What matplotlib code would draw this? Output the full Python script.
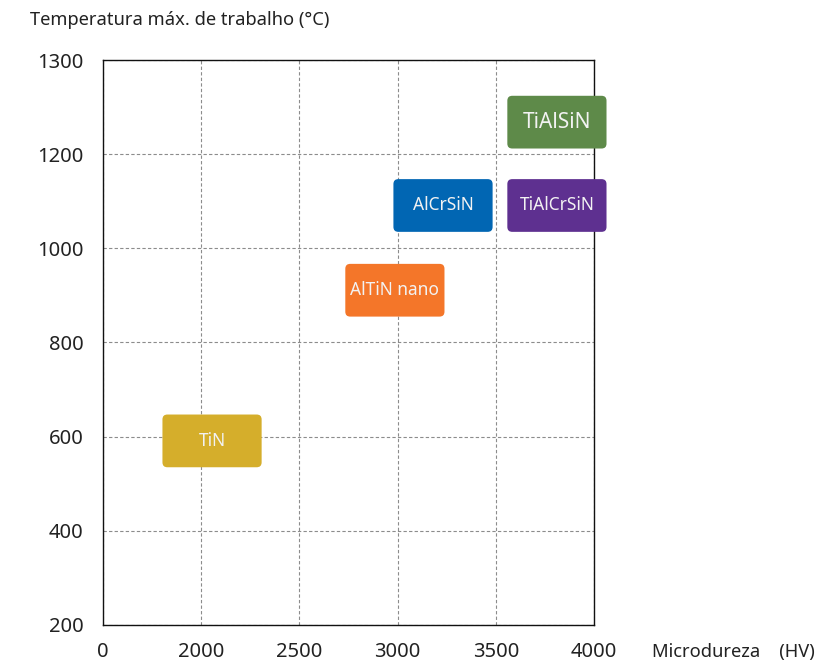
import matplotlib
matplotlib.use("Agg")
import matplotlib.pyplot as plt
from matplotlib.patches import FancyBboxPatch

plt.rcParams['font.family'] = ['Noto Sans', 'DejaVu Sans']

# coatings: hardness (HV) and max working temperature
coatings = ['TiN', 'AlTiN nano', 'AlCrSiN', 'TiAlCrSiN', 'TiAlSiN']
hardness = [2055, 2986, 3231, 3811, 3811]
temperature = [591, 911, 1091, 1091, 1268]
colors = ['#d5ae2b', '#f47629', '#0166b3', '#5e3090', '#5e8a49']
label_sizes = [12.5, 12.5, 12.5, 12.5, 15]

x_ticks = [1500, 2000, 2500, 3000, 3500, 4000]
x_labels = ['0', '2000', '2500', '3000', '3500', '4000']
y_ticks = [200, 400, 600, 800, 1000, 1200, 1400]
y_labels = ['200', '400', '600', '800', '1000', '1200', '1300']

box_w = 505
box_h = 112

fig = plt.figure(figsize=(8.23, 6.66), dpi=100)
ax = fig.add_axes([0.1252, 0.0616, 0.5966, 0.8483])
ax.set_xlim(1500, 4000)
ax.set_ylim(200, 1400)

# px per data unit, so corners stay round
sx = 491 / 2500
sy = 565 / 1200
aspect = sx / sy

for name, x, y, c, fs in zip(coatings, hardness, temperature, colors, label_sizes):
    box = FancyBboxPatch((x - box_w / 2, y - box_h / 2), box_w, box_h,
                         boxstyle="round,pad=0,rounding_size=25",
                         mutation_aspect=aspect,
                         fc=c, ec='none', zorder=3, clip_on=False)
    ax.add_patch(box)
    ax.text(x, y, name, color='#f2f2f2', fontsize=fs, ha='center', va='center', zorder=4)

ax.set_xticks(x_ticks)
ax.set_xticklabels(x_labels)
ax.set_yticks(y_ticks)
ax.set_yticklabels(y_labels)
ax.tick_params(length=0, labelsize=14.5, colors='#222222')
ax.tick_params(axis='y', pad=14)
ax.tick_params(axis='x', pad=12)

ax.grid(True, color='#8c8c8c', linestyle=(0, (3, 2)), linewidth=0.8, zorder=0)
ax.set_axisbelow(True)
for s in ax.spines.values():
    s.set_color('#111111')
    s.set_linewidth(1.0)

fig.text(30 / 823, 1 - 20 / 666, 'Temperatura máx. de trabalho (°C)',
         fontsize=13.2, color='#222222', ha='left', va='center')
fig.text(652 / 823, 1 - 652 / 666, 'Microdureza    (HV)',
         fontsize=13.2, color='#222222', ha='left', va='center')

fig.savefig('out.png', dpi=100)
